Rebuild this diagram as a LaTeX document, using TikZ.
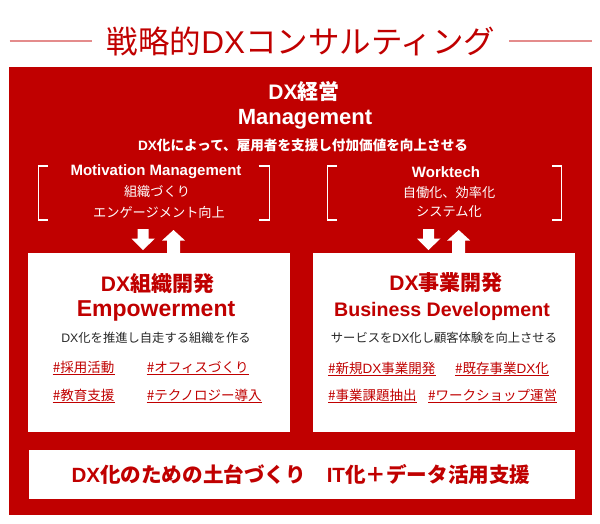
\documentclass[tikz,border=0pt]{standalone}
\usepackage{fontspec}
\setmainfont{Noto Sans CJK JP}
\newfontfamily\lat{Liberation Sans}
\definecolor{dxred}{RGB}{192,0,0}
\definecolor{lnred}{RGB}{228,140,140}
\definecolor{txt}{RGB}{40,40,40}
\tikzset{
  fs/.style={font=\fontsize{#1}{#1}\selectfont},
  bfs/.style={font=\bfseries\fontsize{#1}{#1}\selectfont},
  lbfs/.style={font=\lat\bfseries\fontsize{#1}{#1}\selectfont},
  wtxt/.style={text=white, inner sep=0},
  rtxt/.style={text=dxred, inner sep=0},
  tag/.style={text=dxred, inner sep=0, anchor=base west, font=\fontsize{13.5}{13.5}\selectfont},
  ul/.style={draw=dxred, line width=0.9pt},
  brk/.style={draw=white, line width=1.4pt},
  blockarrow/.style={fill=white},
  titleline/.style={draw=lnred, line width=1.8pt},
}
\newcommand{\ulin}[1]{\draw[ul] ([yshift=-2pt]#1.base west) -- ([yshift=-2pt]#1.base east);}
\begin{document}
\begin{tikzpicture}[x=1pt,y=-1pt]
\useasboundingbox (0,0) rectangle (600,523);
% title
\node[rtxt, fs=31.5] (title) at (301,41) {戦略的{\lat DX}コンサルティング};
\coordinate (tl1) at (9.5,41); \coordinate (tl2) at (92,41);
\coordinate (tr1) at (509,41); \coordinate (tr2) at (592,41);
\draw[titleline] (tl1) -- (tl2);
\draw[titleline] (tr1) -- (tr2);
% red frame and white boxes
\fill[dxred] (9,67) rectangle (592,515);
\fill[white] (28,252.5) rectangle (289.5,432);
\fill[white] (313,252.5) rectangle (575,432);
\fill[white] (28.5,450) rectangle (575,499);
% header
\node[wtxt, bfs=21] (h1) at (304,91.5) {{\lat DX}経営};
\node[wtxt, lbfs=22] (h2) at (305,119.5) {Management};
\node[wtxt, bfs=13.6] (h3) at (303,145) {{\lat DX}化によって、雇用者を支援し付加価値を向上させる};
% left bracket group
\node[wtxt, lbfs=15] (m1) at (156,172) {Motivation Management};
\node[wtxt, fs=13.2] (m2) at (157,192) {組織づくり};
\node[wtxt, fs=13.2] (m3) at (159,212) {エンゲージメント向上};
\draw[brk] (47.5,166) -- (38.5,166) -- (38.5,220) -- (47.5,220);
\draw[brk] (258.5,166) -- (269.5,166) -- (269.5,220) -- (258.5,220);
% right bracket group
\node[wtxt, lbfs=15] (w1) at (446,172) {Worktech};
\node[wtxt, fs=13.2] (w2) at (449,192) {自働化、効率化};
\node[wtxt, fs=13.2] (w3) at (449,212) {システム化};
\draw[brk] (337,166) -- (327.5,166) -- (327.5,220) -- (337,220);
\draw[brk] (552,166) -- (561.5,166) -- (561.5,220) -- (552,220);
% block arrows left
\fill[blockarrow] (137.5,229) -- (148.5,229) -- (148.5,238.5) -- (155,238.5) -- (143,250) -- (131.5,238.5) -- (137.5,238.5) -- cycle;
\fill[blockarrow] (173.5,230) -- (185,240.5) -- (180,240.5) -- (180,253) -- (167,253) -- (167,240.5) -- (162,240.5) -- cycle;
% block arrows right
\fill[blockarrow] (423,229) -- (434,229) -- (434,238.5) -- (440.5,238.5) -- (428.5,250) -- (417,238.5) -- (423,238.5) -- cycle;
\fill[blockarrow] (458.7,230) -- (470.2,240.5) -- (465.2,240.5) -- (465.2,253) -- (452.2,253) -- (452.2,240.5) -- (447.2,240.5) -- cycle;
% left box
\node[rtxt, bfs=21] (l1) at (157.5,284) {{\lat DX}組織開発};
\node[rtxt, lbfs=23] (l2) at (156,311) {Empowerment};
\node[text=txt, inner sep=0, fs=12.3] (l3) at (156,338) {{\lat DX}化を推進し自走する組織を作る};
\node[tag] (t1) at (52.7,372) {\#採用活動};
\node[tag] (t2) at (146.7,372) {\#オフィスづくり};
\node[tag] (t3) at (52.7,400) {\#教育支援};
\node[tag] (t4) at (146.7,400) {\#テクノロジー導入};
\ulin{t1}\ulin{t2}\ulin{t3}\ulin{t4}
% right box
\node[rtxt, bfs=21] (r1) at (446,283) {{\lat DX}事業開発};
\node[rtxt, lbfs=19.6] (r2) at (442,311) {Business Development};
\node[text=txt, inner sep=0, fs=12.3] (r3) at (444,338) {サービスを{\lat DX}化し顧客体験を向上させる};
\node[tag] (t5) at (328,373) {\#新規{\lat DX}事業開発};
\node[tag] (t6) at (455,373) {\#既存事業{\lat DX}化};
\node[tag] (t7) at (328,400) {\#事業課題抽出};
\node[tag] (t8) at (428,400) {\#ワークショップ運営};
\ulin{t5}\ulin{t6}\ulin{t7}\ulin{t8}
% bottom
\node[rtxt, bfs=20.6] (b1) at (301,474.5) {{\lat DX}化のための土台づくり\hspace{1em}{\lat IT}化＋データ活用支援};
\end{tikzpicture}
\end{document}
